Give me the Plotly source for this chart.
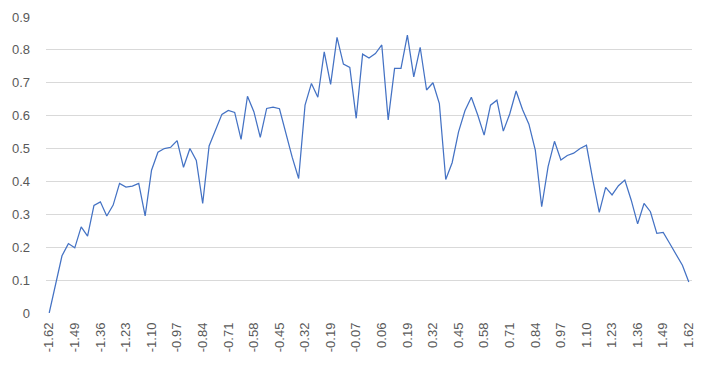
import plotly.graph_objects as go

# category index positions (101 categories from -1.62 to 1.62)
category_index = list(range(101))

values = [
    0.000, 0.085, 0.174, 0.211, 0.198, 0.262, 0.234, 0.327, 0.338, 0.295,
    0.328, 0.394, 0.383, 0.386, 0.394, 0.295, 0.434, 0.489, 0.500, 0.504,
    0.524, 0.443, 0.500, 0.464, 0.333, 0.508, 0.556, 0.604, 0.616, 0.610,
    0.528, 0.659, 0.612, 0.534, 0.622, 0.626, 0.621, 0.546, 0.473, 0.409,
    0.632, 0.698, 0.656, 0.794, 0.695, 0.838, 0.757, 0.747, 0.592, 0.787,
    0.775, 0.789, 0.815, 0.587, 0.744, 0.744, 0.845, 0.718, 0.808, 0.678,
    0.700, 0.637, 0.406, 0.457, 0.551, 0.615, 0.656, 0.602, 0.541, 0.632,
    0.647, 0.553, 0.605, 0.675, 0.619, 0.574, 0.495, 0.323, 0.445, 0.522,
    0.465, 0.479, 0.486, 0.500, 0.510, 0.404, 0.306, 0.382, 0.359, 0.387,
    0.404, 0.343, 0.271, 0.333, 0.308, 0.242, 0.245, 0.212, 0.178, 0.145,
    0.094,
]

tick_positions = list(range(0, 101, 4))
tick_labels = [
    "-1.62", "-1.49", "-1.36", "-1.23", "-1.10", "-0.97", "-0.84", "-0.71",
    "-0.58", "-0.45", "-0.32", "-0.19", "-0.07", "0.06", "0.19", "0.32",
    "0.45", "0.58", "0.71", "0.84", "0.97", "1.10", "1.23", "1.36", "1.49",
    "1.62",
]

y_ticks = [0, 0.1, 0.2, 0.3, 0.4, 0.5, 0.6, 0.7, 0.8, 0.9]
y_labels = ["0", "0.1", "0.2", "0.3", "0.4", "0.5", "0.6", "0.7", "0.8", "0.9"]

fig = go.Figure()
fig.add_trace(go.Scatter(
    x=category_index, y=values, mode="lines",
    line=dict(color="#4472C4", width=1.25),
    hoverinfo="skip",
))

font = dict(family="Liberation Sans", size=13, color="#595959")

fig.update_layout(
    width=701, height=365,
    margin=dict(l=46, r=9, t=17, b=52, autoexpand=False),
    paper_bgcolor="white", plot_bgcolor="white",
    showlegend=False,
    font=font,
)
fig.update_xaxes(
    range=[-0.5, 100.5], automargin=False,
    tickmode="array", tickvals=tick_positions, ticktext=tick_labels,
    tickangle=-90, showgrid=False, zeroline=False, showline=False,
    ticks="", ticklabelstandoff=6,
    tickfont=font,
)
fig.update_yaxes(
    range=[0, 0.9], automargin=False,
    tickmode="array", tickvals=y_ticks, ticktext=y_labels,
    showgrid=True, gridcolor="#D9D9D9", gridwidth=1,
    zeroline=False, showline=False, ticks="",
    ticklabelstandoff=15,
    tickfont=font,
)

fig.write_html(
    "out.html",
    config={"displayModeBar": False},
    post_script="document.body.style.margin='0';document.body.style.overflow='hidden';",
)
